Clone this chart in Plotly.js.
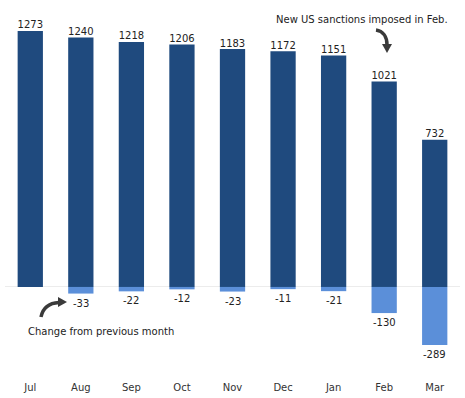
<!DOCTYPE html>
<html>
<head>
<meta charset="utf-8">
<script src="https://cdn.plot.ly/plotly-3.0.1.min.js"></script>
<style>html,body{margin:0;padding:0;background:#fff;}#chart{width:465px;height:398px;}</style>
</head>
<body>
<div id="chart"></div>
<script>
const months = ["Jul","Aug","Sep","Oct","Nov","Dec","Jan","Feb","Mar"];
const levels = [1273,1240,1218,1206,1183,1172,1151,1021,732];
const changes = [null,-33,-22,-12,-23,-11,-21,-130,-289];

const DARK = "#1f4a7e";
const LIGHT = "#5b8fd9";
const TXT = "#222222";
const FONT = "DejaVu Sans, Verdana, sans-serif";

const W = 465, H = 398;
const M = {l:5, r:5, t:10, b:26};
const PW = W - M.l - M.r, PH = H - M.t - M.b;
const px = x => ((x - M.l) / PW).toFixed(4);
const py = y => (1 - (y - M.t) / PH).toFixed(4);
function pth(cmds){
  return cmds.map(c => c[0] + " " + c.slice(1).reduce((a,v,i)=> a + (i%2===0 ? px(v) : "," + py(v) + " "), "")).join(" ");
}

const traces = [
  {type:"bar", x:months, y:levels, marker:{color:DARK}, width:0.5, hoverinfo:"skip"},
  {type:"bar", x:months, y:changes, marker:{color:LIGHT}, width:0.5, hoverinfo:"skip"},
  {type:"scatter", mode:"text", x:months, y:levels, text:levels.map(String),
   textposition:"top center", textfont:{family:FONT, size:10, color:TXT}, hoverinfo:"skip"}
];

const changeLabels = [];
months.forEach((m, i) => {
  if (changes[i] === null) return;
  changeLabels.push({x:m, y:changes[i], xref:"x", yref:"y", text:String(changes[i]),
    showarrow:false, yanchor:"top", xanchor:"center", yshift:-2,
    font:{family:FONT, size:10, color:TXT}});
});

const layout = {
  width:W, height:H,
  margin:M,
  paper_bgcolor:"#fff", plot_bgcolor:"#fff",
  showlegend:false,
  barmode:"relative",
  font:{family:FONT, size:10, color:TXT},
  xaxis:{type:"category", range:[-0.5,8.5], showgrid:false, showline:false, ticks:"",
         ticklabelstandoff:8,
         tickfont:{family:FONT, size:10, color:"#333"}, fixedrange:true},
  yaxis:{range:[-423,1377], showgrid:false, showticklabels:false, zeroline:true,
         zerolinecolor:"#ececec", zerolinewidth:1, fixedrange:true},
  annotations:changeLabels.concat([
    {xref:"paper", yref:"paper", x:px(362), y:py(19), text:"New US sanctions imposed in Feb.",
     showarrow:false, font:{family:FONT, size:10, color:TXT}, xanchor:"center", yanchor:"middle"},
    {xref:"paper", yref:"paper", x:px(101), y:py(332), text:"Change from previous month",
     showarrow:false, font:{family:FONT, size:10, color:TXT}, xanchor:"center", yanchor:"middle"}
  ]),
  shapes:[
    {type:"path", xref:"paper", yref:"paper", line:{color:"#3a3a3a", width:3.5},
     path: pth([["M",41,317],["C",43,307,50,303,59,302.5]])},
    {type:"path", xref:"paper", yref:"paper", line:{color:"#3a3a3a", width:0}, fillcolor:"#3a3a3a",
     path: pth([["M",58,297],["L",67,302],["L",58,307]]) + " Z"},
    {type:"path", xref:"paper", yref:"paper", line:{color:"#3a3a3a", width:3.5},
     path: pth([["M",376,30],["C",383,31,387,37,387,45]])},
    {type:"path", xref:"paper", yref:"paper", line:{color:"#3a3a3a", width:0}, fillcolor:"#3a3a3a",
     path: pth([["M",382,44],["L",392,44],["L",387,53]]) + " Z"}
  ]
};

Plotly.newPlot("chart", traces, layout, {displayModeBar:false, staticPlot:true});
</script>
</body>
</html>
